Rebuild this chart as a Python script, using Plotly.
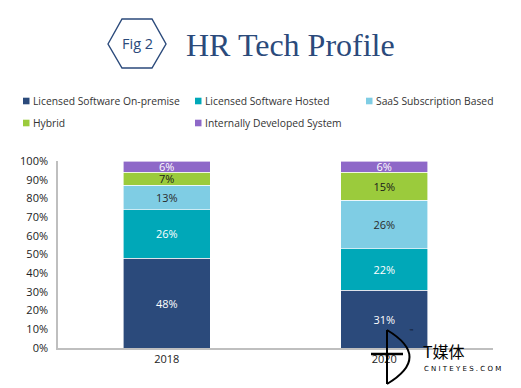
import plotly.graph_objects as go

years = ["2018", "2020"]
series_names = [
    "Licensed Software On-premise",
    "Licensed Software Hosted",
    "SaaS Subscription Based",
    "Hybrid",
    "Internally Developed System",
]
on_premise = [48, 31]
hosted = [26, 22]
saas = [13, 26]
hybrid = [7, 15]
internal = [6, 6]
series_values = [on_premise, hosted, saas, hybrid, internal]
colors = ["#2B4A7B", "#00A8B8", "#7FCDE4", "#9BCB3C", "#8E68C8"]
text_colors = ["#FFFFFF", "#FFFFFF", "#2A2A2A", "#1A1A1A", "#FFFFFF"]
y_tick_vals = [0, 10, 20, 30, 40, 50, 60, 70, 80, 90, 100]
y_tick_labels = ["0%", "10%", "20%", "30%", "40%", "50%", "60%", "70%", "80%", "90%", "100%"]

W, H = 521, 388
L, R, T, B = 58, 28, 161, 40
PW, PH = W - L - R, H - T - B


def px(x):
    return (x - L) / PW


def py(y):
    return (H - B - y) / PH


fig = go.Figure()
for name, vals, c, tc in zip(series_names, series_values, colors, text_colors):
    fig.add_trace(go.Bar(
        x=years, y=vals, name=name,
        marker=dict(color=c, line=dict(color="#FFFFFF", width=0.6)),
        texttemplate="%{y}%", textposition="inside", insidetextanchor="middle",
        textangle=0, textfont=dict(color=tc, size=11, family="Open Sans"),
        showlegend=False, hoverinfo="skip",
    ))

shapes = []
annotations = []

# Manual legend
legend_pos = [(23, 101), (195, 101), (366, 101), (23, 123), (195, 123)]
for (lx, ly), name, c in zip(legend_pos, series_names, colors):
    shapes.append(dict(type="rect", xref="paper", yref="paper",
                       x0=px(lx), x1=px(lx + 6.5), y0=py(ly + 3.3), y1=py(ly - 3.3),
                       fillcolor=c, line=dict(width=0)))
    annotations.append(dict(text=name, xref="paper", yref="paper",
                            x=px(lx + 8), y=py(ly), xanchor="left", yanchor="middle",
                            showarrow=False,
                            font=dict(family="Open Sans", size=10.3, color="#333333")))

# Hexagon with "Fig 2"
hx = [108, 122, 152, 166, 152, 122]
hy = [44, 19, 19, 44, 68, 68]
path = "M " + " L ".join(f"{px(a)},{py(b)}" for a, b in zip(hx, hy)) + " Z"
shapes.append(dict(type="path", xref="paper", yref="paper", path=path,
                   line=dict(color="#2B4A7B", width=1.4)))
annotations.append(dict(text="Fig 2", xref="paper", yref="paper", x=px(137), y=py(44),
                        xanchor="center", yanchor="middle", showarrow=False,
                        font=dict(family="Open Sans", size=14.5, color="#2B4A7B")))
annotations.append(dict(text="HR Tech Profile", xref="paper", yref="paper", x=px(184), y=py(45),
                        xanchor="left", yanchor="middle", showarrow=False,
                        font=dict(family="Liberation Serif", size=32, color="#2B4A7B")))

# Watermark
shapes.append(dict(type="line", xref="paper", yref="paper",
                   x0=px(387), x1=px(387), y0=py(330), y1=py(384),
                   line=dict(color="#000000", width=2)))
shapes.append(dict(type="path", xref="paper", yref="paper",
                   path=f"M {px(387)},{py(330)} Q {px(432)},{py(357)} {px(387)},{py(384)}",
                   line=dict(color="#000000", width=2)))
shapes.append(dict(type="line", xref="paper", yref="paper",
                   x0=px(371), x1=px(403), y0=py(354), y1=py(354),
                   line=dict(color="#000000", width=2.5)))
annotations.append(dict(text="T媒体", xref="paper", yref="paper", x=px(421), y=py(351),
                        xanchor="left", yanchor="middle", showarrow=False,
                        font=dict(family="Noto Sans CJK SC", size=16, color="#000000")))
annotations.append(dict(text="C N I T E Y E S . C O M", xref="paper", yref="paper", x=px(422), y=py(369),
                        xanchor="left", yanchor="middle", showarrow=False,
                        font=dict(family="DejaVu Sans", size=7, color="#000000")))
annotations.append(dict(text="™", xref="paper", yref="paper", x=px(411), y=py(331),
                        xanchor="center", yanchor="middle", showarrow=False,
                        font=dict(family="DejaVu Sans", size=5, color="#000000")))

fig.update_layout(
    width=W, height=H,
    margin=dict(l=L, r=R, t=T, b=B, autoexpand=False),
    barmode="stack", bargap=0.6,
    paper_bgcolor="#FFFFFF", plot_bgcolor="#FFFFFF",
    uniformtext=dict(minsize=11, mode="show"),
    shapes=shapes, annotations=annotations,
    xaxis=dict(showline=True, linecolor="#BFBFBF", linewidth=1.5, showgrid=False,
               tickfont=dict(family="Open Sans", size=11, color="#222222"), ticks=""),
    yaxis=dict(range=[0, 100], tickmode="array", tickvals=y_tick_vals, ticktext=y_tick_labels,
               showline=True, linecolor="#BFBFBF", linewidth=1.5, showgrid=False, zeroline=False,
               ticks="", ticklabelstandoff=6,
               tickfont=dict(family="Open Sans", size=11, color="#222222")),
)

fig.write_html("out.html", config={"displayModeBar": False},
               post_script="document.body.style.margin='0';")
